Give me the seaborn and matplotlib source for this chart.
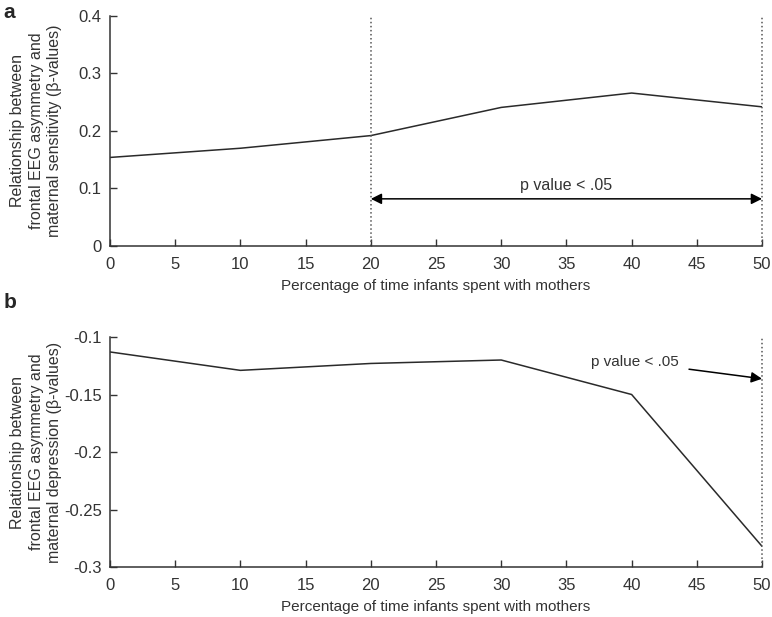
import matplotlib
matplotlib.use('Agg')
import matplotlib.pyplot as plt
from matplotlib.ticker import FormatStrFormatter
import seaborn as sns
import pandas as pd

# Percentage of time infants spent with mothers
pct_time = [0, 10, 20, 30, 40, 50]
# beta values, panel a (maternal sensitivity) and panel b (maternal depression)
beta_sensitivity = [0.154, 0.170, 0.192, 0.241, 0.266, 0.242]
beta_depression = [-0.113, -0.129, -0.123, -0.120, -0.150, -0.282]

x_ticks = [0, 5, 10, 15, 20, 25, 30, 35, 40, 45, 50]
y_ticks_a = [0, 0.1, 0.2, 0.3, 0.4]
y_ticks_b = [-0.3, -0.25, -0.2, -0.15, -0.1]

sig_lines_a = [20, 50]
sig_lines_b = [50]

xlabel = "Percentage of time infants spent with mothers"
ylabel_a = "Relationship between\nfrontal EEG asymmetry and\nmaternal sensitivity (\u03b2-values)"
ylabel_b = "Relationship between\nfrontal EEG asymmetry and\nmaternal depression (\u03b2-values)"

sns.set_style("ticks")
plt.rcParams['font.family'] = ['Liberation Sans', 'DejaVu Sans']
plt.rcParams['axes.unicode_minus'] = False
plt.rcParams['xtick.direction'] = 'in'
plt.rcParams['ytick.direction'] = 'in'

df_a = pd.DataFrame({"pct": pct_time, "beta": beta_sensitivity})
df_b = pd.DataFrame({"pct": pct_time, "beta": beta_depression})

fig = plt.figure(figsize=(7.72, 6.17), dpi=100)
ax_a = fig.add_axes([0.1425, 0.6013, 0.8446, 0.3728])
ax_b = fig.add_axes([0.1425, 0.081, 0.8446, 0.3728])

line_color = '#2a2a2a'
text_color = '#333333'


def style_axis(ax, yticks, ylabel):
    ax.set_xlim(0, 50)
    ax.set_ylim(yticks[0], yticks[-1])
    ax.set_xticks(x_ticks)
    ax.set_yticks(yticks)
    ax.yaxis.set_major_formatter(FormatStrFormatter('%g'))
    ax.tick_params(labelsize=12, length=5, width=1, colors=text_color)
    ax.tick_params(axis='x', pad=8)
    ax.tick_params(axis='y', pad=6)
    ax.set_xlabel(xlabel, fontsize=11, color=text_color, labelpad=5)
    ax.set_ylabel(ylabel, fontsize=11.5, color=text_color, linespacing=1.3,
                  va='center', ha='center')
    # same label position in both panels, as in the original figure
    ax.yaxis.set_label_coords(-0.113, 0.5)
    for side in ['top', 'right']:
        ax.spines[side].set_visible(False)
    for side in ['left', 'bottom']:
        ax.spines[side].set_linewidth(1.1)
        ax.spines[side].set_color(text_color)


# Panel a
sns.lineplot(data=df_a, x="pct", y="beta", ax=ax_a, color=line_color, linewidth=1.1)
for xv in sig_lines_a:
    ax_a.axvline(xv, color='#555555', linestyle=':', linewidth=1.1, clip_on=False)
style_axis(ax_a, y_ticks_a, ylabel_a)
ax_a.annotate('', xy=(20, 0.082), xytext=(50, 0.082),
              arrowprops=dict(arrowstyle='<|-|>', color='black', lw=1.1,
                              mutation_scale=16, shrinkA=0, shrinkB=0))
ax_a.text(35, 0.092, "p value < .05", ha='center', va='bottom', fontsize=11.5, color=text_color)

# Panel b
sns.lineplot(data=df_b, x="pct", y="beta", ax=ax_b, color=line_color, linewidth=1.1)
for xv in sig_lines_b:
    ax_b.axvline(xv, color='#555555', linestyle=':', linewidth=1.1, clip_on=False)
style_axis(ax_b, y_ticks_b, ylabel_b)
ax_b.annotate('', xy=(50, -0.1363), xytext=(44.4, -0.128),
              arrowprops=dict(arrowstyle='-|>', color='black', lw=1.1,
                              mutation_scale=16, shrinkA=0, shrinkB=0))
ax_b.text(36.9, -0.1215, "p value < .05", ha='left', va='center', fontsize=11, color=text_color)

fig.text(0.004, 0.995, "a", fontsize=15, fontweight='bold', va='top', ha='left')
fig.text(0.004, 0.525, "b", fontsize=15, fontweight='bold', va='top', ha='left')

plt.savefig("out.png", dpi=100)
plt.close()
